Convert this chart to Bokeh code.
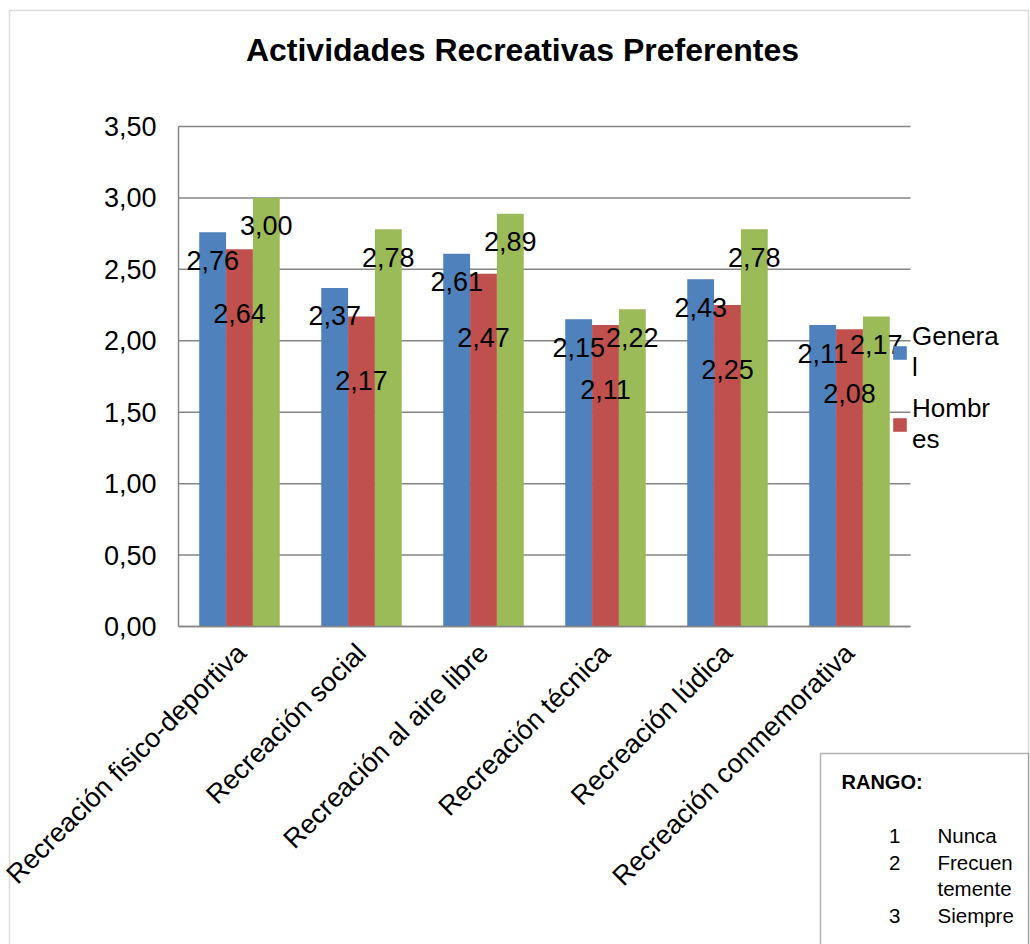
from bokeh.plotting import figure
from bokeh.models import (ColumnDataSource, Range1d, FixedTicker, LinearAxis,
                          CustomJSTickFormatter, Label, BoxAnnotation, Legend, LegendItem)
from bokeh.transform import dodge
from bokeh.core.properties import value
from bokeh.embed import file_html
from bokeh.resources import INLINE
import math

# ---- data ----
categories = ["Recreación fisico-deportiva", "Recreación social", "Recreación al aire libre",
              "Recreación técnica", "Recreación lúdica", "Recreación conmemorativa"]
general = [2.76, 2.37, 2.61, 2.15, 2.43, 2.11]
hombres = [2.64, 2.17, 2.47, 2.11, 2.25, 2.08]
mujeres = [3.00, 2.78, 2.89, 2.22, 2.78, 2.17]
y_ticks = [0.0, 0.5, 1.0, 1.5, 2.0, 2.5, 3.0, 3.5]
title_text = "Actividades Recreativas Preferentes"
legend_labels = ["Genera\nl", "Hombr\nes"]
rango_title = "RANGO:"
rango_nums = ["1", "2", "", "3"]
rango_text = ["Nunca", "Frecuen", "temente", "Siempre"]


def fmt(v):
    return f"{v:.2f}".replace(".", ",")


n = len(categories)
xc = [i + 0.5 for i in range(n)]
src = ColumnDataSource(dict(
    xc=xc, general=general, hombres=hombres, mujeres=mujeres,
    lg=[fmt(v) for v in general], lh=[fmt(v) for v in hombres], lm=[fmt(v) for v in mujeres],
))

FONT = "Liberation Sans"
W, H = 1030, 944
# pixel geometry of the plot area inside the canvas
PX_L, PX_R, PX_T, PX_B = 178, 910, 126, 626
YMAX = 3.5
ppu_y = (PX_B - PX_T) / YMAX
ppu_x = (PX_R - PX_L) / n
x_range = Range1d(-PX_L / ppu_x, n + (W - PX_R) / ppu_x)
y_range = Range1d(-(H - PX_B) / ppu_y, YMAX + PX_T / ppu_y)

p = figure(width=W, height=H, x_range=x_range, y_range=y_range,
           output_backend="svg", toolbar_location=None,
           x_axis_type=None, y_axis_type=None,
           min_border_left=0, min_border_right=0, min_border_top=0, min_border_bottom=0)
p.outline_line_color = None
p.background_fill_color = "white"
p.border_fill_color = "white"
p.xgrid.visible = False
p.ygrid.visible = False

# outer chart border
p.add_layout(BoxAnnotation(left=9, right=1028, top=H - 10, bottom=-50,
                           left_units="screen", right_units="screen",
                           top_units="screen", bottom_units="screen",
                           fill_alpha=0, line_color="#898989", line_width=1.5))

# horizontal gridlines
p.segment(x0=[0] * len(y_ticks), x1=[n] * len(y_ticks), y0=y_ticks, y1=y_ticks,
          line_color="#868686", line_width=1.5)

blue, red, green = "#4F81BD", "#C0504D", "#9BBB59"
bw = 0.22
r1 = p.vbar(x=dodge("xc", -bw), top="general", width=bw, source=src,
            fill_color=blue, line_color=None)
r2 = p.vbar(x=dodge("xc", 0), top="hombres", width=bw, source=src,
            fill_color=red, line_color=None)
r3 = p.vbar(x=dodge("xc", bw), top="mujeres", width=bw, source=src,
            fill_color=green, line_color=None)

for off, col, ycol, yoff in [(-bw, "lg", "general", 28), (0, "lh", "hombres", 64),
                             (bw, "lm", "mujeres", 28)]:
    p.text(x=dodge("xc", off), y=ycol, text=col, source=src,
           text_align="center", text_baseline="middle", y_offset=yoff,
           text_font=value(FONT), text_font_size="27px", text_color="black")

# axes (fixed inside the canvas)
yaxis = LinearAxis(fixed_location=0, bounds=(0, YMAX))
yaxis.ticker = FixedTicker(ticks=y_ticks)
yaxis.formatter = CustomJSTickFormatter(code="return tick.toFixed(2).replace('.', ',');")
yaxis.major_label_text_font = FONT
yaxis.major_label_text_font_size = "27px"
yaxis.major_label_text_color = "black"
yaxis.major_tick_out = 0
yaxis.major_tick_in = 0
yaxis.minor_tick_out = 0
yaxis.minor_tick_in = 0
yaxis.major_label_standoff = 22
yaxis.axis_line_color = "#868686"
yaxis.axis_line_width = 1.5
p.add_layout(yaxis, "left")

xaxis = LinearAxis(fixed_location=0, bounds=(0, n))
xaxis.ticker = FixedTicker(ticks=xc)
xaxis.major_label_overrides = {x: c for x, c in zip(xc, categories)}
xaxis.major_label_orientation = math.pi / 4
xaxis.major_label_text_font = FONT
xaxis.major_label_text_font_size = "27px"
xaxis.major_label_text_color = "black"
xaxis.major_tick_out = 0
xaxis.major_tick_in = 0
xaxis.minor_tick_out = 0
xaxis.minor_tick_in = 0
xaxis.major_label_standoff = 22
xaxis.axis_line_color = "#868686"
xaxis.axis_line_width = 1.5
p.add_layout(xaxis, "below")

# title
p.add_layout(Label(x=522, y=H - 49, x_units="screen", y_units="screen",
                   text=title_text, text_align="center", text_baseline="middle",
                   text_font=FONT, text_font_size="32px", text_font_style="bold",
                   text_color="black"))

# legend
legend = Legend(items=[LegendItem(label=legend_labels[0], renderers=[r1]),
                       LegendItem(label=legend_labels[1], renderers=[r2])],
                location=(891, H - 455), padding=0, margin=0, spacing=10,
                glyph_width=17, glyph_height=17, label_standoff=4,
                label_text_font=FONT, label_text_font_size="26px",
                label_text_color="black", label_text_line_height=1.15,
                label_text_baseline="top",
                border_line_color=None, background_fill_alpha=0)
p.add_layout(legend)

# RANGO box
p.add_layout(BoxAnnotation(left=820, right=1028, top=H - 753, bottom=-50,
                           left_units="screen", right_units="screen",
                           top_units="screen", bottom_units="screen",
                           fill_color="white", fill_alpha=1, line_color="black", line_width=1.5))
p.add_layout(Label(x=841, y=H - 781, x_units="screen", y_units="screen",
                   text=rango_title, text_align="left", text_baseline="middle",
                   text_font=FONT, text_font_size="20px", text_font_style="bold",
                   text_color="black"))
row_y = [835, 862, 888, 915]
for num, txt, yy in zip(rango_nums, rango_text, row_y):
    if num:
        p.add_layout(Label(x=900, y=H - yy, x_units="screen", y_units="screen",
                           text=num, text_align="right", text_baseline="middle",
                           text_font=FONT, text_font_size="20.5px", text_color="black"))
    p.add_layout(Label(x=937, y=H - yy, x_units="screen", y_units="screen",
                       text=txt, text_align="left", text_baseline="middle",
                       text_font=FONT, text_font_size="20.5px", text_color="black"))

open("out.html", "w").write(file_html(p, INLINE))
